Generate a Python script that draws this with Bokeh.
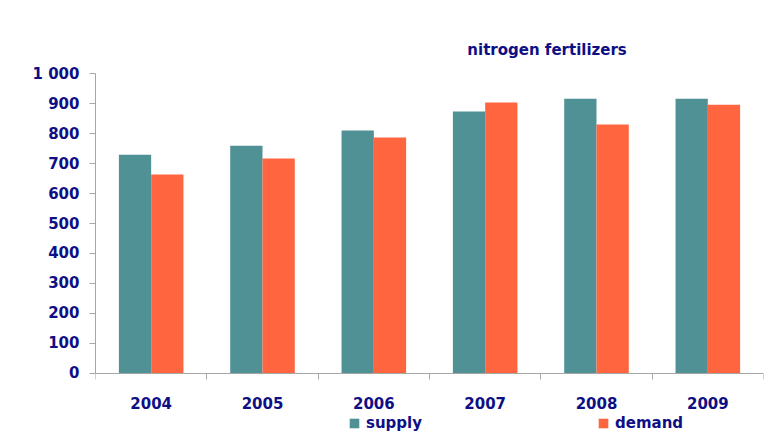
from bokeh.plotting import figure
from bokeh.models import (Range1d, FixedTicker, ColumnDataSource, Legend, LegendItem, Label)
from bokeh.transform import dodge
from bokeh.embed import file_html
from bokeh.resources import INLINE

years = ["2004", "2005", "2006", "2007", "2008", "2009"]
supply = [730, 760, 811, 874, 917, 917]
demand = [664, 717, 787, 904, 831, 897]
y_ticks = [0, 100, 200, 300, 400, 500, 600, 700, 800, 900, 1000]
y_tick_labels = ["0", "100", "200", "300", "400", "500", "600", "700", "800", "900", "1 000"]
title_text = "nitrogen fertilizers"

NAVY = "#0F0F85"
TEAL = "#509196"
ORANGE = "#FF6640"
GRAY = "#A6A6A6"
FONT = "DejaVu Sans"

pos = [i + 0.5 for i in range(len(years))]
src = ColumnDataSource(dict(pos=pos, year=years, supply=supply, demand=demand))

# frame spans from 30px to the bottom edge; value axis runs only 0..1000
p = figure(width=764, height=435, output_backend="svg", toolbar_location=None,
           x_range=Range1d(0, len(years)), y_range=Range1d(-208, 1144.6),
           x_axis_location="above",
           min_border_left=95, min_border_right=1, min_border_top=30, min_border_bottom=0)
p.background_fill_color = "white"
p.border_fill_color = "white"
p.outline_line_color = None
p.xgrid.visible = False
p.ygrid.visible = False

bw = 0.29
r1 = p.vbar(x=dodge("pos", -bw / 2), top="supply", width=bw, source=src,
            fill_color=TEAL, line_color=None)
r2 = p.vbar(x=dodge("pos", bw / 2), top="demand", width=bw, source=src,
            fill_color=ORANGE, line_color=None)

# y axis
ya = p.yaxis[0]
ya.bounds = (0, 1000)
ya.ticker = FixedTicker(ticks=y_ticks)
ya.major_label_overrides = {t: l for t, l in zip(y_ticks, y_tick_labels)}
ya.axis_line_color = GRAY
ya.major_tick_line_color = GRAY
ya.major_tick_out = 6
ya.major_tick_in = 0
ya.minor_tick_line_color = None
ya.major_label_standoff = 10
ya.major_label_text_font = FONT
ya.major_label_text_font_style = "bold"
ya.major_label_text_font_size = "15px"
ya.major_label_text_color = NAVY

# x axis drawn at value 0: labels at category centres, tick marks at boundaries
xa = p.xaxis[0]
xa.fixed_location = 0
xa.ticker = FixedTicker(ticks=pos, minor_ticks=list(range(len(years) + 1)))
xa.major_label_overrides = {pv: y for pv, y in zip(pos, years)}
xa.axis_line_color = GRAY
xa.major_tick_line_color = None
xa.major_tick_out = 0
xa.major_tick_in = 0
xa.minor_tick_line_color = GRAY
xa.minor_tick_out = 0
xa.minor_tick_in = 6
xa.major_label_standoff = -36
xa.major_label_text_font = FONT
xa.major_label_text_font_style = "bold"
xa.major_label_text_font_size = "15px"
xa.major_label_text_color = NAVY

# title
p.add_layout(Label(x=3.34, y=1078, text=title_text, text_font=FONT,
                   text_font_style="bold", text_font_size="15px", text_color=NAVY,
                   text_baseline="alphabetic"))

legend = Legend(items=[LegendItem(label="supply", renderers=[r1]),
                       LegendItem(label="demand", renderers=[r2])],
                orientation="horizontal", location=(253, 3),
                glyph_width=12, glyph_height=12, label_standoff=6, spacing=175,
                padding=0, margin=0, border_line_color=None, background_fill_alpha=0,
                label_text_font=FONT, label_text_font_style="bold",
                label_text_font_size="15px", label_text_color=NAVY,
                label_height=12)
p.add_layout(legend, "center")

html = file_html(p, INLINE)
open("out.html", "w").write(html)
